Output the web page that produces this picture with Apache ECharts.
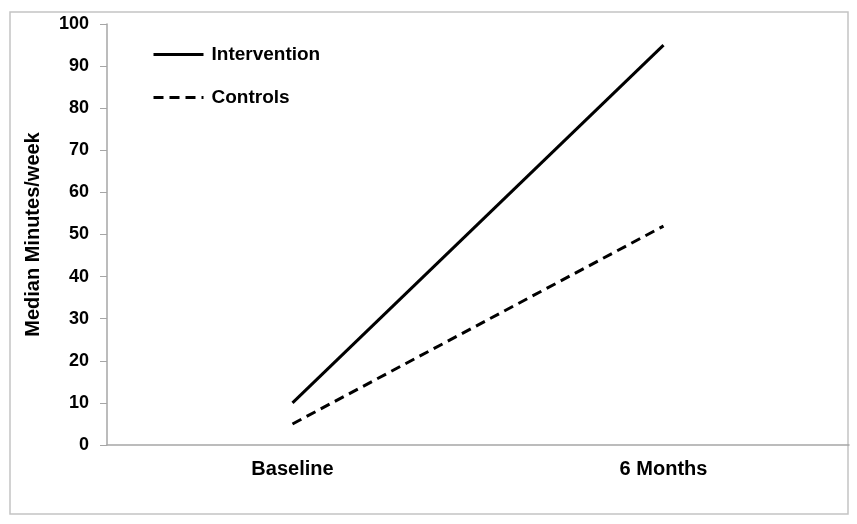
<!DOCTYPE html>
<html><head><meta charset="utf-8">
<script src="https://cdn.jsdelivr.net/npm/echarts@6/dist/echarts.min.js"></script>
<style>html,body{margin:0;padding:0;background:#fff}#c{width:857px;height:524px}</style>
</head><body><div id="c"></div>
<script>
const categories = ['Baseline', '6 Months'];
const intervention = [10, 95];
const controls = [5, 52];
const yTicks = [0, 10, 20, 30, 40, 50, 60, 70, 80, 90, 100];

const FONT = '"Liberation Sans", Arial, sans-serif';
const chart = echarts.init(document.getElementById('c'));
chart.setOption({
  animation: false,
  backgroundColor: '#fff',
  graphic: [{
    type: 'rect', shape: {x: 10, y: 12, width: 838, height: 502},
    style: {fill: 'none', stroke: '#c4c4c4', lineWidth: 1.5}, silent: true
  }],
  grid: {left: 107, right: 8, top: 24, bottom: 79},
  legend: {
    orient: 'vertical', left: 152, top: 45, padding: 0, itemWidth: 50, itemHeight: 20, itemGap: 24,
    itemStyle: {opacity: 0},
    lineStyle: {width: 3},
    textStyle: {fontFamily: FONT, fontWeight: 'bold', fontSize: 19, color: '#000', padding: [0, 0, 0, 3]},
    data: ['Intervention', 'Controls']
  },
  xAxis: {
    type: 'category', data: categories, boundaryGap: true,
    axisLine: {lineStyle: {color: '#a6a6a6', width: 1.5}},
    axisTick: {length: 7, lineStyle: {color: '#a6a6a6'}},
    axisLabel: {margin: 14, fontFamily: FONT, fontWeight: 'bold', fontSize: 20, color: '#000'}
  },
  yAxis: {
    type: 'value', min: yTicks[0], max: yTicks[yTicks.length - 1], interval: 10,
    name: 'Median Minutes/week', nameLocation: 'middle', nameGap: 64, nameRotate: 90,
    nameTextStyle: {fontFamily: FONT, fontWeight: 'bold', fontSize: 20, color: '#000'},
    axisLine: {show: true, lineStyle: {color: '#a6a6a6', width: 1.5}},
    axisTick: {show: true, length: 7, lineStyle: {color: '#a6a6a6'}},
    splitLine: {show: false},
    axisLabel: {margin: 18, fontFamily: FONT, fontWeight: 'bold', fontSize: 18, color: '#000'}
  },
  series: [
    {name: 'Intervention', type: 'line', data: intervention, symbol: 'none',
     lineStyle: {color: '#000', width: 3, type: 'solid'}, itemStyle: {color: '#000'}},
    {name: 'Controls', type: 'line', data: controls, symbol: 'none',
     lineStyle: {color: '#000', width: 3, type: [10, 6]}, itemStyle: {color: '#000'}}
  ]
});
</script></body></html>
